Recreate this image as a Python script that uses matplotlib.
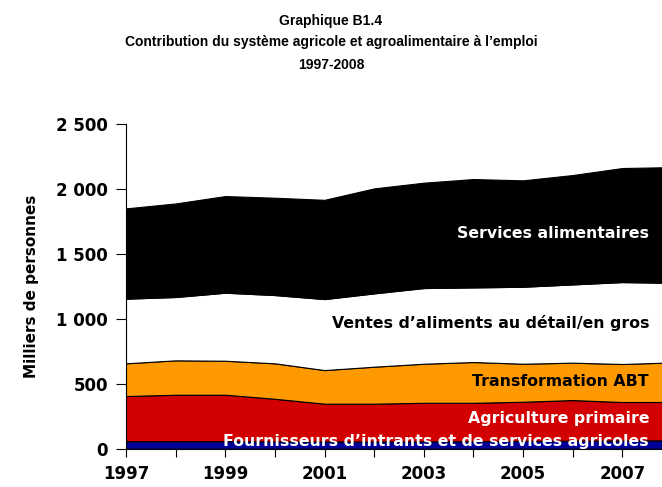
import numpy as np
import matplotlib.pyplot as plt
from matplotlib.ticker import FuncFormatter, MultipleLocator, FixedLocator

annees = [1997, 1998, 1999, 2000, 2001, 2002, 2003, 2004, 2005, 2006, 2007, 2008]

# niveaux cumulés (milliers de personnes)
haut_fournisseurs = [58, 58, 58, 57, 56, 56, 57, 58, 60, 62, 63, 65]
haut_agriculture = [406, 416, 416, 385, 347, 347, 354, 354, 362, 375, 360, 360]
haut_transformation = [658, 681, 678, 658, 606, 632, 655, 668, 655, 663, 653, 665]
haut_ventes = [1156, 1169, 1202, 1184, 1153, 1197, 1238, 1243, 1248, 1266, 1284, 1278]
haut_services = [1852, 1890, 1947, 1934, 1918, 2006, 2050, 2078, 2068, 2109, 2163, 2170]

hauts = [haut_fournisseurs, haut_agriculture, haut_transformation, haut_ventes, haut_services]
series = [np.array(hauts[0])] + [np.array(hauts[i]) - np.array(hauts[i - 1]) for i in range(1, 5)]

noms = ["Fournisseurs d\u2019intrants et de services agricoles",
        "Agriculture primaire",
        "Transformation ABT",
        "Ventes d\u2019aliments au d\u00e9tail/en gros",
        "Services alimentaires"]
couleurs = ["#000099", "#D20000", "#FF9900", "#FFFFFF", "#000000"]
couleurs_texte = ["white", "white", "black", "black", "white"]
y_texte = [52, 236, 520, 967, 1662]

fig = plt.figure(figsize=(6.62, 4.87), dpi=100)
ax = fig.add_axes([0.1903, 0.0786, 0.8097, 0.6662])

ax.stackplot(annees, *series, colors=couleurs, edgecolor="black", linewidth=0.8)

ax.set_xlim(1997, 2007.8)
ax.set_ylim(0, 2500)

ax.spines["top"].set_visible(False)
ax.spines["right"].set_visible(False)
ax.spines["left"].set_linewidth(0.8)
ax.spines["bottom"].set_linewidth(0.8)

ax.yaxis.set_major_locator(MultipleLocator(500))
ax.yaxis.set_major_formatter(FuncFormatter(lambda v, p: f"{int(v):,}".replace(",", " ")))
ax.xaxis.set_major_locator(FixedLocator(annees[::2]))
ax.xaxis.set_minor_locator(MultipleLocator(1))
ax.tick_params(axis="y", direction="out", length=7, width=0.8, pad=6, labelsize=12)
ax.tick_params(axis="x", which="both", direction="out", length=6, width=0.8, pad=6, labelsize=12)
for lab in ax.get_xticklabels() + ax.get_yticklabels():
    lab.set_fontweight("bold")

ax.set_ylabel("Milliers de personnes", fontsize=11, fontweight="bold", labelpad=12)

for nom, c, y in zip(noms, couleurs_texte, y_texte):
    ax.text(2007.54, y, nom, ha="right", va="center", color=c,
            fontsize=11.3, fontweight="bold")

titre = dict(ha="center", va="center", fontsize=10, fontweight="bold", family="Liberation Sans")
fig.text(0.5, 0.957, "Graphique B1.4", **titre)
fig.text(0.5, 0.914, "Contribution du syst\u00e8me agricole et agroalimentaire \u00e0 l\u2019emploi", **titre)
fig.text(0.5, 0.866, "1997-2008", **titre)

fig.savefig("out.png", dpi=100)
